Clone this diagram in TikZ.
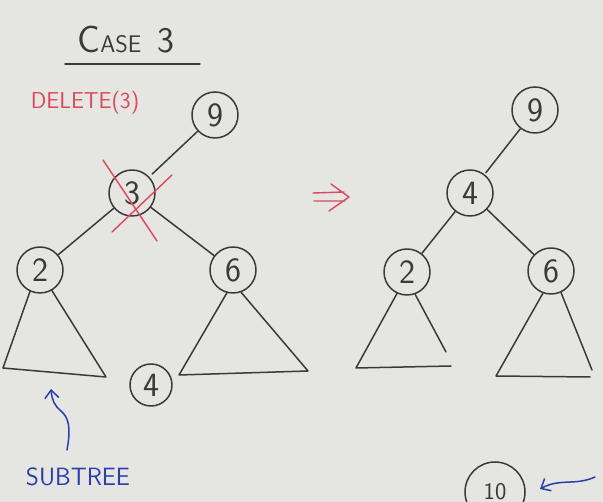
\documentclass[tikz,border=0pt]{standalone}
\usepackage{fontspec}
\usepackage{tikz}
\usetikzlibrary{arrows,arrows.meta}
\definecolor{paper}{RGB}{229,229,226}
\definecolor{pencil}{RGB}{58,58,58}
\definecolor{redpen}{RGB}{222,72,92}
\definecolor{bluepen}{RGB}{42,62,172}

\begin{document}
\begin{tikzpicture}[x=1pt,y=-1pt,line cap=round,line join=round,
  pen/.style={draw=pencil,line width=1.5pt},
  blue pen/.style={draw=bluepen,line width=1.5pt,-{Straight Barb[length=8pt,width=14pt]}},
  tree node/.style={circle,draw=pencil,line width=1.5pt,minimum size=46pt,inner sep=0pt,text=pencil,font=\sffamily\fontsize{34}{34}\selectfont}]

			\fill[paper] (0,0) rectangle (603,502);
			\useasboundingbox (0,0) rectangle (603,502);

			% before
			\node[tree node] (l9) at (215,115) {9};
			\node[tree node] (l3) at (132,193) {3};
			\node[tree node] (l2) at (40,270) {2};
			\node[tree node] (l6) at (233,270) {6};
			\node[tree node,minimum size=42pt] (l4) at (151,385) {4};

			% after
			\node[tree node] (r9) at (535,110) {9};
			\node[tree node] (r4) at (470,193) {4};
			\node[tree node] (r2) at (407,272) {2};
			\node[tree node] (r6) at (551,271) {6};

			\node[tree node,minimum size=60pt,font=\sffamily\fontsize{24}{24}\selectfont] (r10) at (495,492) {10};

			\path[pen]
			(l9) edge [shorten >=4pt] (l3)
			(l3) edge (l2)
				edge (l6)
			(r9) edge [shorten >=2pt] (r4)
			(r4) edge (r2)
				edge (r6);

			% subtrees
			\draw[pen] (l2.-115) -- (3,368) -- (106,377) -- (l2.-60);
			\draw[pen] (l6.-105) -- (179,375) -- (308,371) -- (l6.-70);
			\draw[pen] (r2.-70) -- (446,352) (r2.-115) -- (356,368) -- (451,366);
			\draw[pen] (r6.-65) -- (592,370) (r6.-110) -- (496,376) -- (590,377);

			% delete mark
			\draw[draw=redpen,line width=1.4pt] (103,160) -- (157,241) (112,232) -- (172,175);

			% then
			\draw[draw=redpen,line width=1.4pt] (313,193) -- (344,192) (314,201) -- (345,201)
				(331,184) -- (349,197) -- (329,211);

			% texts
			\node[text=pencil,font=\sffamily] (title) at (126,40)
				{{\fontsize{38}{38}\selectfont C}{\fontsize{24}{24}\selectfont ASE}\hspace{16pt}{\fontsize{36}{36}\selectfont 3}};
			\draw[pen] (65,64) -- (200,64);
			\node[text=redpen,font=\sffamily\fontsize{23}{23}\selectfont] (del) at (85,103) {DELETE(3)};
			\node[text=bluepen,font=\sffamily\fontsize{25}{25}\selectfont] (sub) at (78,477) {SUBTREE};

			% pointers
			\coordinate (subtail) at (67,450);
			\coordinate (subtip) at (51,389);
			\coordinate (tentail) at (595,477);
			\coordinate (tentip) at (540,489);
			\draw[blue pen] (subtail) .. controls (71,428) and (69,418) .. (61,411) .. controls (54,405) and (52,400) .. (subtip);
			\draw[blue pen] (tentail) .. controls (575,486) and (560,478) .. (tentip);
		\end{tikzpicture}
\end{document}
